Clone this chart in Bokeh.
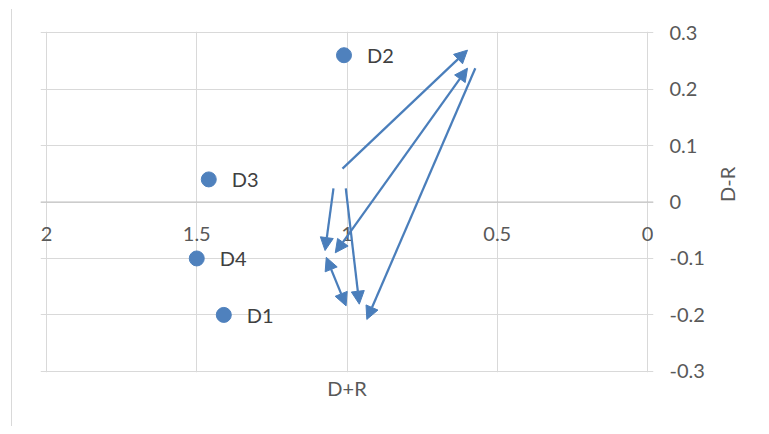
import math
from bokeh.plotting import figure
from bokeh.models import (ColumnDataSource, Range1d, FixedTicker, LabelSet, Label, Arrow,
                          NormalHead, Span, CustomJSTickFormatter)
from bokeh.core.properties import value
from bokeh.embed import file_html
from bokeh.resources import INLINE

# ---- data ----
names = ["D1", "D2", "D3", "D4"]
d_plus_r = [1.41, 1.01, 1.46, 1.50]
d_minus_r = [-0.20, 0.26, 0.04, -0.10]

x_ticks = [2, 1.5, 1, 0.5, 0]
x_tick_labels = ["2", "1.5", "1", "0.5", "0"]
y_ticks = [-0.3, -0.2, -0.1, 0, 0.1, 0.2, 0.3]
y_tick_labels = ["-0.3", "-0.2", "-0.1", "0", "0.1", "0.2", "0.3"]

# single-headed arrows (start -> end)
arr_x0 = [1.015, 0.573, 1.045, 1.004]
arr_y0 = [0.059, 0.237, 0.024, 0.024]
arr_x1 = [0.599, 0.934, 1.073, 0.959]
arr_y1 = [0.269, -0.208, -0.086, -0.181]
# double-headed arrows
dbl_x0 = [1.039, 1.069]
dbl_y0 = [-0.090, -0.098]
dbl_x1 = [0.599, 1.003]
dbl_y1 = [0.237, -0.184]

FONT = "Lato"
BLUE_PT = "#4F81BD"
BLUE_LN = "#4A7EBB"
GRID = "#D9D9D9"
TICKC = "#595959"
PAD = 0.02    # room so labels at x=2 and x=0 are not clipped
YPAD = 0.002  # keep the outer gridlines inside the frame

p = figure(width=749, height=417, output_backend="svg", toolbar_location=None,
           x_range=Range1d(2 + PAD, 0 - PAD), y_range=Range1d(-0.3 - YPAD, 0.3 + YPAD),
           y_axis_location="right",
           min_border_left=28, min_border_right=108, min_border_top=22, min_border_bottom=54,
           margin=(9, 0, 0, 11),
           styles={"border-left": "1px solid #D9D9D9"})
p.background_fill_color = "white"
p.border_fill_color = "white"
p.outline_line_color = None

# grids (bounded to the data area)
p.xgrid.ticker = FixedTicker(ticks=x_ticks)
p.ygrid.ticker = FixedTicker(ticks=y_ticks)
p.xgrid.bounds = (-0.3, 0.3)
p.ygrid.bounds = (0, 2)
p.grid.grid_line_color = GRID
p.grid.grid_line_width = 1
p.add_layout(Span(location=0, dimension="width", line_color="#BFBFBF", line_width=1))

# x axis (title only; tick labels drawn at y=0)
xa = p.xaxis[0]
xa.ticker = FixedTicker(ticks=[])
xa.axis_line_color = None
xa.major_tick_line_color = None
xa.minor_tick_line_color = None
xa.major_label_text_font_size = "0px"
xa.major_label_standoff = 0
xa.major_tick_out = 0
xa.major_tick_in = 0
xa.axis_label = "D+R"
xa.axis_label_text_font = FONT
xa.axis_label_text_font_size = "20px"
xa.axis_label_text_font_style = "normal"
xa.axis_label_text_color = TICKC
xa.axis_label_standoff = 3

# y axis on right
ya = p.yaxis[0]
ya.ticker = FixedTicker(ticks=y_ticks)
ya.formatter = CustomJSTickFormatter(args=dict(yt=y_ticks, yl=y_tick_labels), code="""
let i = 0, b = 1e9;
for (let k = 0; k < yt.length; k++) { const d = Math.abs(yt[k] - tick); if (d < b) { b = d; i = k; } }
return yl[i];
""")
ya.axis_line_color = None
ya.major_tick_line_color = None
ya.minor_tick_line_color = None
ya.major_tick_out = 0
ya.major_tick_in = 0
ya.major_label_standoff = 16
ya.major_label_text_font = FONT
ya.major_label_text_font_size = "20px"
ya.major_label_text_color = TICKC
ya.axis_label = "D-R"
ya.axis_label_text_font = FONT
ya.axis_label_text_font_size = "20px"
ya.axis_label_text_font_style = "normal"
ya.axis_label_text_color = TICKC
ya.axis_label_text_align = "center"
ya.axis_label_standoff = 19
if "axis_label_orientation" in ya.properties():
    ya.axis_label_orientation = math.pi / 2

# x tick labels along y = 0
for xv, lab in zip(x_ticks, x_tick_labels):
    p.add_layout(Label(x=xv, y=0, y_offset=-32, text=lab,
                       text_align="center", text_baseline="middle",
                       text_font=FONT, text_font_size="20px", text_color=TICKC))

# points
src = ColumnDataSource(dict(x=d_plus_r, y=d_minus_r, n=names))
p.scatter("x", "y", source=src, size=15, fill_color=BLUE_PT, line_color=BLUE_PT)
p.add_layout(LabelSet(source=src, x="x", y="y", text="n", x_offset=23,
                      text_align="left", text_baseline="middle",
                      text_font=value(FONT), text_font_size=value("20px"),
                      text_color="#404040"))

# arrows
a_src = ColumnDataSource(dict(x0=arr_x0, y0=arr_y0, x1=arr_x1, y1=arr_y1))
p.add_layout(Arrow(source=a_src, x_start="x0", y_start="y0", x_end="x1", y_end="y1",
                   line_color=BLUE_LN, line_width=2.25,
                   end=NormalHead(size=13, fill_color=BLUE_LN, line_color=BLUE_LN)))
d_src = ColumnDataSource(dict(x0=dbl_x0, y0=dbl_y0, x1=dbl_x1, y1=dbl_y1))
p.add_layout(Arrow(source=d_src, x_start="x0", y_start="y0", x_end="x1", y_end="y1",
                   line_color=BLUE_LN, line_width=2.25,
                   start=NormalHead(size=13, fill_color=BLUE_LN, line_color=BLUE_LN),
                   end=NormalHead(size=13, fill_color=BLUE_LN, line_color=BLUE_LN)))

open("out.html", "w").write(file_html(p, INLINE))
